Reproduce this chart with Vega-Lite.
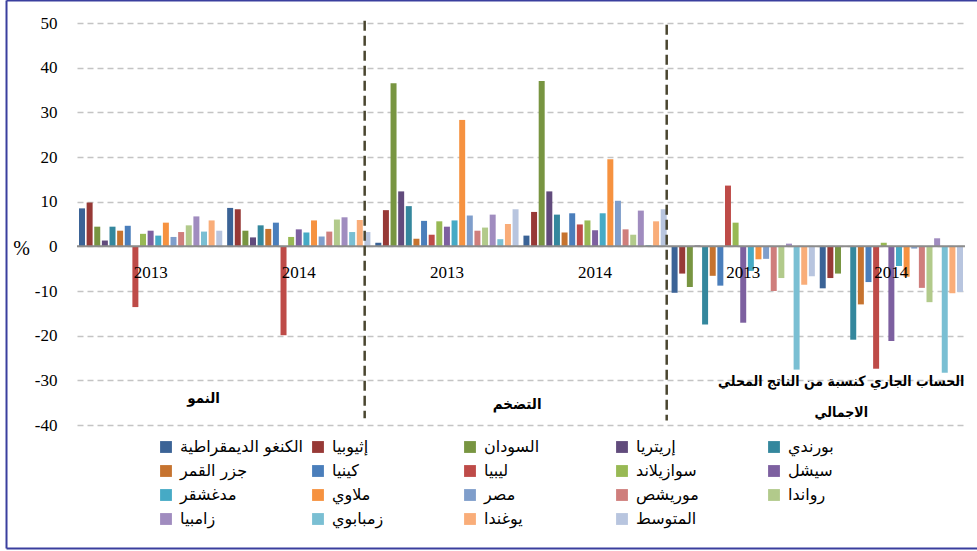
{
  "$schema": "https://vega.github.io/schema/vega-lite/v6.json",
  "width": 888,
  "height": 402,
  "autosize": "none",
  "padding": {"left": 77, "top": 23, "right": 12, "bottom": 126},
  "background": "white",
  "config": {"view": {"stroke": null}, "font": "DejaVu Sans"},
  "layer": [
    {
      "data": {"values": [
        {"country": "الكنغو الديمقراطية", "g13": 8.5, "g14": 8.6, "i13": 0.8, "i14": 2.4, "c13": -10.4, "c14": -9.4},
        {"country": "إثيوبيا", "g13": 9.8, "g14": 8.3, "i13": 8.1, "i14": 7.7, "c13": -6.1, "c14": -7.1},
        {"country": "السودان", "g13": 4.4, "g14": 3.5, "i13": 36.5, "i14": 37.0, "c13": -9.1, "c14": -6.1},
        {"country": "إريتريا", "g13": 1.3, "g14": 2.0, "i13": 12.3, "i14": 12.3, "c13": 0.2, "c14": 0.0},
        {"country": "بورندي", "g13": 4.4, "g14": 4.7, "i13": 9.0, "i14": 7.1, "c13": -17.5, "c14": -20.9},
        {"country": "جزر القمر", "g13": 3.5, "g14": 3.9, "i13": 1.7, "i14": 3.1, "c13": -6.6, "c14": -13.0},
        {"country": "كينيا", "g13": 4.6, "g14": 5.3, "i13": 5.7, "i14": 7.4, "c13": -8.8, "c14": -8.0},
        {"country": "ليبيا", "g13": -13.6, "g14": -19.9, "i13": 2.6, "i14": 4.9, "c13": 13.6, "c14": -27.4},
        {"country": "سوازيلاند", "g13": 2.8, "g14": 2.1, "i13": 5.6, "i14": 5.8, "c13": 5.3, "c14": 0.8},
        {"country": "سيشل", "g13": 3.5, "g14": 3.8, "i13": 4.4, "i14": 3.6, "c13": -17.1, "c14": -21.2},
        {"country": "مدغشقر", "g13": 2.4, "g14": 3.1, "i13": 5.8, "i14": 7.4, "c13": -5.5, "c14": -4.4},
        {"country": "ملاوي", "g13": 5.3, "g14": 5.8, "i13": 28.3, "i14": 19.5, "c13": -2.9, "c14": -6.8},
        {"country": "مصر", "g13": 2.1, "g14": 2.2, "i13": 6.9, "i14": 10.2, "c13": -2.8, "c14": -0.5},
        {"country": "موريشص", "g13": 3.2, "g14": 3.3, "i13": 3.5, "i14": 3.8, "c13": -10.0, "c14": -9.3},
        {"country": "رواندا", "g13": 4.7, "g14": 6.0, "i13": 4.2, "i14": 2.6, "c13": -7.1, "c14": -12.5},
        {"country": "زامبيا", "g13": 6.7, "g14": 6.5, "i13": 7.1, "i14": 8.0, "c13": 0.6, "c14": 1.8},
        {"country": "زمبابوي", "g13": 3.3, "g14": 3.2, "i13": 1.6, "i14": 0.3, "c13": -27.6, "c14": -28.3},
        {"country": "يوغندا", "g13": 5.8, "g14": 5.9, "i13": 5.0, "i14": 5.6, "c13": -8.6, "c14": -10.5},
        {"country": "المتوسط", "g13": 3.5, "g14": 3.2, "i13": 8.3, "i14": 8.3, "c13": -6.7, "c14": -10.2}
      ]},
      "transform": [{"fold": ["g13", "g14", "i13", "i14", "c13", "c14"], "as": ["grp", "v"]}],
      "mark": {"type": "bar"},
      "encoding": {
        "x": {"field": "grp", "type": "nominal",
              "scale": {"domain": ["g13", "g14", "i13", "i14", "c13", "c14"], "paddingInner": 0.033, "paddingOuter": 0.0135}, "axis": null},
        "xOffset": {"field": "country", "type": "nominal",
                    "scale": {"domain": ["الكنغو الديمقراطية", "إثيوبيا", "السودان", "إريتريا", "بورندي", "جزر القمر", "كينيا", "ليبيا", "سوازيلاند", "سيشل", "مدغشقر", "ملاوي", "مصر", "موريشص", "رواندا", "زامبيا", "زمبابوي", "يوغندا", "المتوسط"], "paddingInner": 0.214, "paddingOuter": 0}},
        "y": {"field": "v", "type": "quantitative",
              "scale": {"domain": [-40, 50], "nice": false, "zero": false},
              "axis": {"values": [-40, -30, -20, -10, 0, 10, 20, 30, 40, 50], "labelExpr": "'' + datum.value", "grid": true, "gridDash": [6, 4], "gridColor": "#c4c4c4", "gridWidth": 1.5,
                       "domain": false, "ticks": false, "labelFont": "Liberation Serif, Times New Roman, serif", "labelFontSize": 17, "labelColor": "#000000", "labelPadding": 20,
                       "title": "%", "titleAngle": 0, "titleX": -56, "titleY": 225, "titleFont": "Liberation Serif, Times New Roman, serif", "titleFontSize": 20, "titleFontWeight": "normal",
                       "titleAlign": "center", "titleBaseline": "middle", "titleColor": "#000000"}},
        "color": {"field": "country", "type": "nominal",
                  "scale": {"domain": ["الكنغو الديمقراطية", "إثيوبيا", "السودان", "إريتريا", "بورندي", "جزر القمر", "كينيا", "ليبيا", "سوازيلاند", "سيشل", "مدغشقر", "ملاوي", "مصر", "موريشص", "رواندا", "زامبيا", "زمبابوي", "يوغندا", "المتوسط"],
                            "range": ["#3b6396", "#973936", "#789541", "#614b7c", "#34879d", "#c6732f", "#4a7ebb", "#be4b48", "#98b954", "#7d60a0", "#46aac5", "#f69240", "#7f9ecb", "#cf7e7c", "#b2ca8b", "#a08cbf", "#7abfd3", "#f9ad79", "#b8c5df"]},
                  "legend": {"orient": "none", "legendX": 81, "legendY": 416, "direction": "horizontal", "columns": 5, "title": null, "symbolType": "square", "symbolSize": 140, "symbolStrokeWidth": 0, "symbolOpacity": 1,
                             "labelFont": "DejaVu Sans", "labelFontSize": 16, "labelColor": "#000000", "labelOffset": 6, "rowPadding": 8, "columnPadding": 7, "gridAlign": "all", "labelLimit": 250, "padding": 0}}
      }
    },
    {
      "data": {"values": [{}]},
      "mark": {"type": "rule", "color": "#8c8c8c", "strokeWidth": 2},
      "encoding": {"y": {"datum": 0}}
    },
    {
      "data": {"values": [{}]},
      "mark": {"type": "rule", "color": "#4a4630", "strokeWidth": 2.5, "strokeDash": [10, 5]},
      "encoding": {"x": {"datum": "g14", "type": "nominal", "bandPosition": 0.96}, "y": {"datum": 50.5}, "y2": {"datum": -38.5}}
    },
    {
      "data": {"values": [{}]},
      "mark": {"type": "rule", "color": "#4a4630", "strokeWidth": 2.5, "strokeDash": [10, 5]},
      "encoding": {"x": {"datum": "i14", "type": "nominal", "bandPosition": 1.0}, "y": {"datum": 49.6}, "y2": {"datum": -39}}
    },
    {
      "data": {"values": [{}]},
      "mark": {"type": "rule", "color": "#3a3f9e", "strokeWidth": 2, "clip": false},
      "encoding": {"x": {"datum": "g13", "type": "nominal", "bandPosition": -0.506}, "y": {"datum": 55.04}, "y2": {"datum": -67.65}}
    },
    {
      "data": {"values": [{}]},
      "mark": {"type": "rule", "color": "#3a3f9e", "strokeWidth": 2, "clip": false},
      "encoding": {"x": {"datum": "g13", "type": "nominal", "bandPosition": -0.506}, "x2": {"datum": "c14", "bandPosition": 1.12}, "y": {"datum": 55.04}}
    },
    {
      "data": {"values": [{}]},
      "mark": {"type": "rule", "color": "#3a3f9e", "strokeWidth": 2, "clip": false},
      "encoding": {"x": {"datum": "g13", "type": "nominal", "bandPosition": -0.506}, "x2": {"datum": "c14", "bandPosition": 1.12}, "y": {"datum": -67.65}}
    },
    {
      "data": {"values": [
        {"grp": "g13", "yr": "2013"}, {"grp": "g14", "yr": "2014"},
        {"grp": "i13", "yr": "2013"}, {"grp": "i14", "yr": "2014"},
        {"grp": "c13", "yr": "2013"}, {"grp": "c14", "yr": "2014"}
      ]},
      "mark": {"type": "text", "font": "Liberation Serif, Times New Roman, serif", "fontSize": 17, "color": "#000000", "baseline": "middle", "align": "center"},
      "encoding": {"x": {"field": "grp", "type": "nominal"}, "y": {"datum": -6}, "text": {"field": "yr"}}
    },
    {
      "data": {"values": [{"grp": "g13", "lab": "النمو"}]},
      "mark": {"type": "text", "font": "DejaVu Sans Condensed, DejaVu Sans", "fontWeight": "bold", "fontSize": 15, "color": "#000000", "baseline": "middle", "align": "center"},
      "encoding": {"x": {"field": "grp", "type": "nominal", "bandPosition": 0.87}, "y": {"datum": -33.9}, "text": {"field": "lab"}}
    },
    {
      "data": {"values": [{"grp": "i13", "lab": "التضخم"}]},
      "mark": {"type": "text", "font": "DejaVu Sans Condensed, DejaVu Sans", "fontWeight": "bold", "fontSize": 15, "color": "#000000", "baseline": "middle", "align": "center"},
      "encoding": {"x": {"field": "grp", "type": "nominal", "bandPosition": 0.99}, "y": {"datum": -35.2}, "text": {"field": "lab"}}
    },
    {
      "data": {"values": [{"grp": "c14", "l1": "الحساب الجاري كنسبة من الناتج المحلي"}]},
      "mark": {"type": "text", "font": "DejaVu Sans Condensed, DejaVu Sans", "fontWeight": "bold", "fontSize": 14, "color": "#000000", "baseline": "middle", "align": "center"},
      "encoding": {"x": {"field": "grp", "type": "nominal", "bandPosition": 0.15}, "y": {"datum": -30.3}, "text": {"field": "l1"}}
    },
    {
      "data": {"values": [{"grp": "c14", "l2": "الاجمالي"}]},
      "mark": {"type": "text", "font": "DejaVu Sans Condensed, DejaVu Sans", "fontWeight": "bold", "fontSize": 14, "color": "#000000", "baseline": "middle", "align": "center"},
      "encoding": {"x": {"field": "grp", "type": "nominal", "bandPosition": 0.15}, "y": {"datum": -37.3}, "text": {"field": "l2"}}
    }
  ]
}
